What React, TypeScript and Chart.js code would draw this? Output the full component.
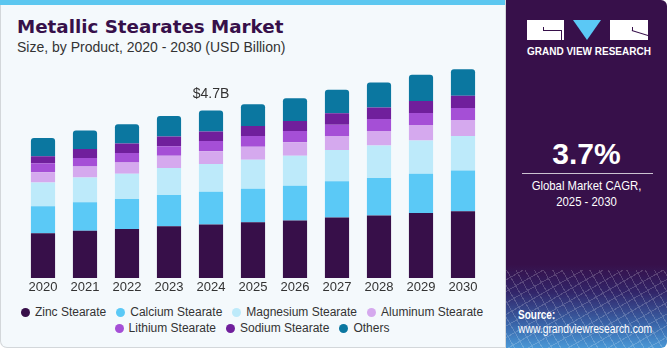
import React, { useEffect, useRef } from "react";
import { Chart, registerables } from "chart.js";

Chart.register(...registerables);

const years = ["2020", "2021", "2022", "2023", "2024", "2025", "2026", "2027", "2028", "2029", "2030"];
const zincStearate = [1.25, 1.32, 1.37, 1.45, 1.5, 1.56, 1.61, 1.69, 1.75, 1.82, 1.87];
const calciumStearate = [0.76, 0.8, 0.84, 0.87, 0.91, 0.94, 0.97, 1.02, 1.05, 1.1, 1.14];
const magnesiumStearate = [0.66, 0.69, 0.71, 0.76, 0.78, 0.81, 0.84, 0.87, 0.91, 0.93, 0.96];
const aluminumStearate = [0.29, 0.31, 0.31, 0.34, 0.36, 0.36, 0.38, 0.39, 0.4, 0.43, 0.45];
const lithiumStearate = [0.25, 0.24, 0.27, 0.27, 0.28, 0.3, 0.31, 0.32, 0.34, 0.34, 0.34];
const sodiumStearate = [0.2, 0.25, 0.26, 0.27, 0.27, 0.28, 0.28, 0.32, 0.32, 0.33, 0.34];
const others = [0.51, 0.52, 0.54, 0.57, 0.59, 0.61, 0.64, 0.66, 0.7, 0.74, 0.74];

const seriesNames = [
  "Zinc Stearate",
  "Calcium Stearate",
  "Magnesium Stearate",
  "Aluminum Stearate",
  "Lithium Stearate",
  "Sodium Stearate",
  "Others",
];
const seriesValues = [
  zincStearate,
  calciumStearate,
  magnesiumStearate,
  aluminumStearate,
  lithiumStearate,
  sodiumStearate,
  others,
];
const seriesColors = ["#370f49", "#5bc9f6", "#bdeafa", "#d5a9ee", "#a54fd6", "#701f9c", "#0b77a0"];

const highlightIndex = 4;
const highlightLabel = "$4.7B";

const title = "Metallic Stearates Market";
const subtitle = "Size, by Product, 2020 - 2030 (USD Billion)";
const cagrValue = "3.7%";
const cagrLabel1 = "Global Market CAGR,";
const cagrLabel2 = "2025 - 2030";

const SANS = "'Liberation Sans', Arial, sans-serif";

export default function App() {
  const canvasRef = useRef<HTMLCanvasElement | null>(null);

  useEffect(() => {
    const canvas = canvasRef.current;
    if (!canvas) return;
    const labelPlugin = {
      id: "highlightLabel",
      afterDatasetsDraw(chart: any) {
        const meta = chart.getDatasetMeta(chart.data.datasets.length - 1);
        const el = meta.data[highlightIndex];
        if (!el) return;
        const ctx = chart.ctx;
        ctx.save();
        ctx.font = `14px ${SANS}`;
        ctx.fillStyle = "#333333";
        ctx.textAlign = "center";
        ctx.textBaseline = "alphabetic";
        ctx.fillText(highlightLabel, el.x, el.y - 12.5);
        ctx.restore();
      },
    };
    const chart = new Chart(canvas, {
      type: "bar",
      data: {
        labels: years,
        datasets: seriesNames.map((name, i) => ({
          label: name,
          data: seriesValues[i],
          backgroundColor: seriesColors[i],
          borderWidth: 0,
          borderRadius: 3,
          borderSkipped: "start" as const,
          barPercentage: 0.575,
          categoryPercentage: 1,
        })),
      },
      options: {
        animation: false,
        responsive: false,
        maintainAspectRatio: false,
        layout: { padding: { left: 22, right: 21, top: 45.7, bottom: 2.4 } },
        plugins: {
          legend: { display: false },
          tooltip: { enabled: false },
          title: { display: false },
        },
        scales: {
          x: {
            stacked: true,
            grid: { display: false, drawTicks: false },
            border: { display: false },
            ticks: {
              color: "#333333",
              font: { family: SANS, size: 13 },
              padding: 2,
              maxRotation: 0,
              autoSkip: false,
            },
          },
          y: {
            stacked: true,
            display: false,
            min: 0,
            max: 6.5,
          },
        },
      },
      plugins: [labelPlugin],
    });
    return () => chart.destroy();
  }, []);

  return (
    <div style={{ position: "absolute", left: 0, top: 0, width: 670, height: 350, background: "#ffffff", overflow: "hidden", fontFamily: SANS }}>
      {/* left panel */}
      <div
        style={{
          position: "absolute",
          left: 0,
          top: 0,
          width: 504,
          height: 347,
          background: "#f4f9fc",
          border: "1px solid #d3d7da",
          borderTop: "none",
          borderRadius: "0 0 0 7px",
        }}
      />
      <div style={{ position: "absolute", left: 0, top: 0, width: 505, height: 5, background: "#5cc7f0" }} />
      <div style={{ position: "absolute", left: 17, top: 15, fontFamily: "'DejaVu Sans', sans-serif", fontWeight: 700, fontSize: 18.3, color: "#37104a", whiteSpace: "nowrap", lineHeight: "24px" }}>
        {title}
      </div>
      <div style={{ position: "absolute", left: 17, top: 39, fontSize: 14, color: "#333333", whiteSpace: "nowrap", lineHeight: "16px" }}>
        {subtitle}
      </div>
      <canvas
        ref={canvasRef}
        width={505}
        height={300}
        style={{ position: "absolute", left: 0, top: 0, width: 505, height: 300 }}
      />
      {/* legend */}
      <div
        style={{
          position: "absolute",
          left: 17,
          top: 304,
          width: 470,
          display: "flex",
          flexWrap: "wrap",
          justifyContent: "center",
          columnGap: 10,
          rowGap: 0,
          fontSize: 12,
          color: "#333333",
          lineHeight: "16.3px",
        }}
      >
        {seriesNames.map((name, i) => (
          <div key={name} style={{ display: "flex", alignItems: "center", whiteSpace: "nowrap" }}>
            <span style={{ display: "inline-block", width: 9, height: 9, borderRadius: "50%", background: seriesColors[i], marginRight: 5 }} />
            <span>{name}</span>
          </div>
        ))}
      </div>
      {/* right panel */}
      <div
        style={{
          position: "absolute",
          left: 506,
          top: 0,
          width: 161,
          height: 348,
          borderRadius: "0 6px 6px 0",
          background: "linear-gradient(to bottom, #37104a 0%, #37104a 76%, #33266a 84%, #3a64a8 93%, #4a98d6 100%)",
          overflow: "hidden",
        }}
      >
        <div
          style={{
            position: "absolute",
            left: 0,
            top: 270,
            width: 161,
            height: 78,
            opacity: 0.18,
            background:
              "repeating-linear-gradient(60deg, transparent 0px, transparent 7px, #ffffff 7px, #ffffff 8px), repeating-linear-gradient(-30deg, transparent 0px, transparent 9px, #ffffff 9px, #ffffff 10px)",
          }}
        />
      </div>
      {/* logo */}
      <div style={{ position: "absolute", left: 527, top: 20, width: 37, height: 20, background: "#ffffff" }}>
        <div style={{ position: "absolute", left: 16, top: 10, width: 19, height: 1, background: "#37104a" }} />
        <div style={{ position: "absolute", left: 16, top: 7, width: 1, height: 4, background: "#37104a" }} />
        <div style={{ position: "absolute", left: 34, top: 10, width: 1, height: 10, background: "#37104a" }} />
      </div>
      <div
        style={{
          position: "absolute",
          left: 573,
          top: 20,
          width: 0,
          height: 0,
          borderLeft: "14px solid transparent",
          borderRight: "14px solid transparent",
          borderTop: "20px solid #5bc8f5",
        }}
      />
      <div style={{ position: "absolute", left: 610, top: 20, width: 38, height: 20, background: "#ffffff", overflow: "hidden" }}>
        <div style={{ position: "absolute", left: 22, top: 10, width: 17, height: 1, background: "#37104a", transform: "rotate(17deg)", transformOrigin: "0 0" }} />
        <div style={{ position: "absolute", left: 22, top: 7, width: 1, height: 4, background: "#37104a" }} />
      </div>
      <div style={{ position: "absolute", left: 527, top: 46, width: 121, textAlign: "center", fontSize: 10, fontWeight: 700, color: "#ffffff", whiteSpace: "nowrap", lineHeight: "12px" }}>
        GRAND VIEW RESEARCH
      </div>
      {/* CAGR */}
      <div style={{ position: "absolute", left: 506, top: 137, width: 161, textAlign: "center", fontSize: 30, fontWeight: 700, color: "#ffffff", lineHeight: "34px" }}>
        {cagrValue}
      </div>
      <div style={{ position: "absolute", left: 522, top: 173, width: 131, height: 1, background: "rgba(255,255,255,0.75)" }} />
      <div
        style={{
          position: "absolute",
          left: 506,
          top: 178,
          width: 161,
          textAlign: "center",
          fontSize: 13.5,
          color: "#ffffff",
          lineHeight: "16px",
          whiteSpace: "nowrap",
          transform: "scaleX(0.84)",
          transformOrigin: "50% 0",
        }}
      >
        {cagrLabel1}
        <br />
        {cagrLabel2}
      </div>
      {/* source */}
      <div style={{ position: "absolute", left: 518, top: 308, fontSize: 12.5, fontWeight: 700, color: "#ffffff", lineHeight: "14px", whiteSpace: "nowrap", transform: "scaleX(0.8)", transformOrigin: "0 0" }}>
        Source:
      </div>
      <div style={{ position: "absolute", left: 518, top: 322, fontSize: 12, color: "#ffffff", lineHeight: "14px", whiteSpace: "nowrap", transform: "scaleX(0.86)", transformOrigin: "0 0" }}>
        www.grandviewresearch.com
      </div>
    </div>
  );
}
